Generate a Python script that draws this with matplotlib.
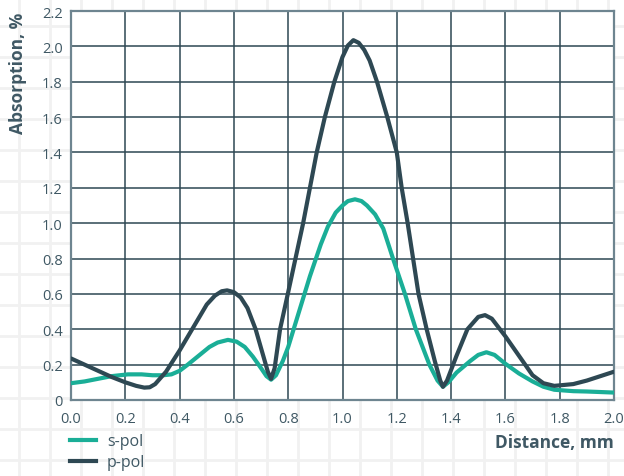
import matplotlib
matplotlib.use('Agg')
import matplotlib.pyplot as plt
from matplotlib.lines import Line2D

# values
s_x = [0.00, 0.05, 0.10, 0.15, 0.21, 0.26, 0.30, 0.34, 0.37, 0.40, 0.43, 0.47, 0.51, 0.54, 0.578,
       0.61, 0.64, 0.67, 0.70, 0.72, 0.737, 0.755, 0.78, 0.80, 0.84, 0.88, 0.92, 0.946, 0.975,
       1.00, 1.02, 1.046, 1.07, 1.09, 1.12, 1.15, 1.186, 1.23, 1.27, 1.32, 1.35, 1.37, 1.39,
       1.42, 1.47, 1.50, 1.53, 1.56, 1.60, 1.65, 1.70, 1.74, 1.78, 1.85, 1.90, 2.00]
s_pol = [0.095, 0.105, 0.12, 0.135, 0.145, 0.145, 0.14, 0.14, 0.145, 0.165, 0.20, 0.25, 0.30, 0.325, 0.34,
         0.33, 0.30, 0.245, 0.18, 0.135, 0.115, 0.14, 0.22, 0.30, 0.50, 0.70, 0.88, 0.98, 1.06,
         1.10, 1.125, 1.135, 1.125, 1.10, 1.05, 0.97, 0.80, 0.60, 0.40, 0.20, 0.11, 0.075, 0.10,
         0.155, 0.22, 0.255, 0.27, 0.255, 0.205, 0.15, 0.105, 0.075, 0.058, 0.05, 0.048, 0.042]

p_x = [0.00, 0.05, 0.10, 0.15, 0.20, 0.24, 0.27, 0.29, 0.31, 0.35, 0.40, 0.45, 0.50, 0.53, 0.555,
       0.575, 0.60, 0.625, 0.65, 0.68, 0.71, 0.725, 0.737, 0.75, 0.77, 0.80, 0.855, 0.88, 0.905,
       0.935, 0.97, 1.00, 1.02, 1.04, 1.06, 1.08, 1.10, 1.127, 1.165, 1.20, 1.218, 1.24, 1.28,
       1.31, 1.34, 1.36, 1.37, 1.385, 1.42, 1.46, 1.50, 1.525, 1.55, 1.60, 1.65, 1.70, 1.74,
       1.78, 1.85, 1.90, 2.00]
p_pol = [0.235, 0.20, 0.165, 0.13, 0.10, 0.08, 0.07, 0.072, 0.09, 0.16, 0.28, 0.41, 0.54, 0.59, 0.615,
         0.62, 0.61, 0.58, 0.52, 0.40, 0.24, 0.16, 0.12, 0.18, 0.40, 0.61, 1.00, 1.20, 1.40,
         1.60, 1.80, 1.94, 2.005, 2.035, 2.02, 1.98, 1.92, 1.80, 1.60, 1.40, 1.20, 1.00, 0.60,
         0.40, 0.22, 0.11, 0.075, 0.11, 0.25, 0.40, 0.47, 0.48, 0.46, 0.36, 0.25, 0.14, 0.095,
         0.08, 0.09, 0.11, 0.16]

x_ticks = [0.0, 0.2, 0.4, 0.6, 0.8, 1.0, 1.2, 1.4, 1.6, 1.8, 2.0]
y_ticks = [0, 0.2, 0.4, 0.6, 0.8, 1.0, 1.2, 1.4, 1.6, 1.8, 2.0, 2.2]
y_tick_labels = ['0', '0.2', '0.4', '0.6', '0.8', '1.0', '1.2', '1.4', '1.6', '1.8', '2.0', '2.2']

TEAL = '#1aae97'
DARK = '#2e4853'
TEXT = '#3f5864'
W, H = 624, 477

plt.rcParams['font.family'] = ['Open Sans', 'DejaVu Sans']

fig = plt.figure(figsize=(W / 100, H / 100), dpi=100)
fig.patch.set_facecolor('white')

# faint graph-paper background
bg = fig.add_axes([0, 0, 1, 1], zorder=-5)
bg.set_xlim(0, W)
bg.set_ylim(H, 0)
bg.axis('off')
for gx in range(19, W, 31):
    bg.axvline(gx, color='#f1f1f1', lw=2.0)
for gy in range(-4, H, 31):
    bg.axhline(gy, color='#f1f1f1', lw=2.0)

ax = fig.add_axes([71 / W, 1 - 401 / H, (614 - 71) / W, (401 - 12) / H])
ax.set_facecolor('white')
ax.plot(s_x, s_pol, color=TEAL, lw=3.0, solid_joinstyle='round', solid_capstyle='round', zorder=3)
ax.plot(p_x, p_pol, color=DARK, lw=3.0, solid_joinstyle='round', solid_capstyle='round', zorder=4)

ax.set_xlim(0, 2.0)
ax.set_ylim(0, 2.2)
ax.set_xticks(x_ticks)
ax.set_xticklabels([f'{v:.1f}' for v in x_ticks])
ax.set_yticks(y_ticks)
ax.set_yticklabels(y_tick_labels)
ax.tick_params(length=0, labelsize=10.5, labelcolor=TEXT)
ax.tick_params(axis='x', pad=8)
ax.tick_params(axis='y', pad=6)
ax.grid(True, color=DARK, lw=1.1)
ax.set_axisbelow(True)
for sp in ax.spines.values():
    sp.set_color('#6e8590')
    sp.set_linewidth(1.6)

fig.text(18 / W, 1 - 13 / H, 'Absorption, %', rotation=90, ha='center', va='top',
         fontsize=12.5, fontweight='bold', color=TEXT)
fig.text(614 / W, 1 - 443 / H, 'Distance, mm', ha='right', va='center',
         fontsize=12.5, fontweight='bold', color=TEXT)

handles = [Line2D([0], [0], color=TEAL, lw=3.0), Line2D([0], [0], color=DARK, lw=3.0)]
fig.legend(handles, ['s-pol', 'p-pol'], loc='upper left', bbox_to_anchor=(64 / W, 1 - 428 / H),
           frameon=False, fontsize=11.5, labelcolor=TEXT, handlelength=1.6,
           handletextpad=0.7, labelspacing=0.3, borderaxespad=0)

fig.savefig('out.png', dpi=100, facecolor='white')
